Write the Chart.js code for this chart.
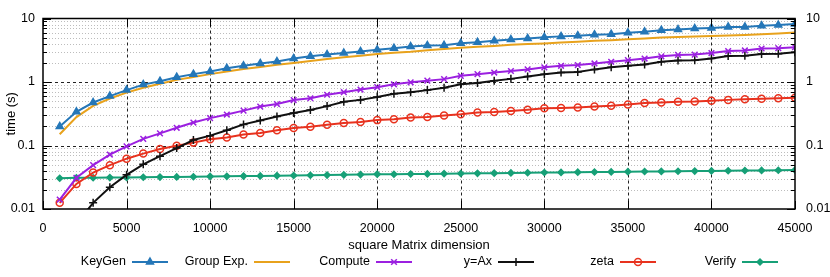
<!DOCTYPE html>
<html lang="en">
<head>
  <meta charset="UTF-8" />
  <title>Timing vs square matrix dimension</title>
  <script src="https://cdn.jsdelivr.net/npm/chart.js@4.4.0/dist/chart.umd.min.js"></script>
  <style>
    body { margin: 0; background: #fff; }
    canvas { display: block; }
  </style>
</head>
<body>
  <canvas id="timing" width="830" height="277"></canvas>

  <script>
    /* ---------- data (seconds) ---------- */
    var matrixDims = [1000, 2000, 3000, 4000, 5000, 6000, 7000, 8000, 9000, 10000,
      11000, 12000, 13000, 14000, 15000, 16000, 17000, 18000, 19000, 20000,
      21000, 22000, 23000, 24000, 25000, 26000, 27000, 28000, 29000, 30000,
      31000, 32000, 33000, 34000, 35000, 36000, 37000, 38000, 39000, 40000,
      41000, 42000, 43000, 44000, 45000];

    var keyGen = [0.20, 0.34, 0.475, 0.60, 0.745, 0.91, 1.03, 1.19, 1.33, 1.46,
      1.64, 1.80, 1.96, 2.10, 2.34, 2.55, 2.70, 2.86, 3.03, 3.22,
      3.41, 3.62, 3.75, 3.78, 4.07, 4.22, 4.48, 4.65, 4.86, 5.05,
      5.23, 5.35, 5.55, 5.67, 5.95, 6.16, 6.54, 6.70, 6.93, 7.10,
      7.36, 7.38, 7.70, 7.90, 8.20];

    var groupExp = [0.15, 0.28, 0.42, 0.55, 0.68, 0.81, 0.94, 1.08, 1.20, 1.33,
      1.46, 1.60, 1.73, 1.87, 2.00, 2.15, 2.30, 2.45, 2.60, 2.75,
      2.90, 3.00, 3.15, 3.30, 3.45, 3.60, 3.70, 3.85, 3.95, 4.05,
      4.20, 4.30, 4.45, 4.55, 4.70, 4.85, 5.00, 5.10, 5.20, 5.30,
      5.40, 5.50, 5.65, 5.80, 6.00];

    var compute = [0.0141, 0.031, 0.049, 0.072, 0.097, 0.127, 0.155, 0.19, 0.23, 0.27,
      0.307, 0.354, 0.41, 0.45, 0.52, 0.555, 0.63, 0.69, 0.76, 0.83,
      0.92, 0.99, 1.05, 1.11, 1.25, 1.33, 1.41, 1.49, 1.58, 1.70,
      1.80, 1.85, 1.96, 2.08, 2.21, 2.34, 2.54, 2.67, 2.70, 2.86,
      3.07, 3.14, 3.37, 3.41, 3.54];

    var yAx = [null, 0.0058, 0.0125, 0.022, 0.0345, 0.0505, 0.068, 0.091, 0.122, 0.143,
      0.174, 0.215, 0.248, 0.286, 0.326, 0.362, 0.417, 0.487, 0.523, 0.58,
      0.653, 0.69, 0.745, 0.81, 0.92, 0.966, 1.05, 1.12, 1.22, 1.33,
      1.41, 1.44, 1.58, 1.70, 1.80, 1.89, 2.08, 2.18, 2.21, 2.34,
      2.57, 2.58, 2.76, 2.79, 2.93];

    var zeta = [0.0125, 0.0248, 0.0375, 0.049, 0.062, 0.0745, 0.088, 0.099, 0.111, 0.125,
      0.134, 0.149, 0.158, 0.174, 0.189, 0.198, 0.213, 0.226, 0.234, 0.251,
      0.26, 0.276, 0.282, 0.296, 0.31, 0.33, 0.337, 0.35, 0.367, 0.385,
      0.389, 0.398, 0.412, 0.423, 0.443, 0.465, 0.475, 0.487, 0.492, 0.505,
      0.523, 0.535, 0.547, 0.555, 0.567];

    var verify = [0.0305, 0.031, 0.031, 0.0312, 0.0313, 0.0316, 0.0318, 0.032, 0.0322, 0.0326,
      0.0327, 0.033, 0.0332, 0.0335, 0.0337, 0.034, 0.0342, 0.0345, 0.0348, 0.0354,
      0.0352, 0.0355, 0.0357, 0.036, 0.0362, 0.0364, 0.0367, 0.037, 0.0372, 0.0375,
      0.0377, 0.038, 0.0382, 0.0384, 0.0387, 0.0389, 0.0391, 0.0393, 0.0395, 0.0398,
      0.040, 0.0403, 0.0405, 0.0408, 0.0412];

    var seriesNames = ["KeyGen", "Group Exp.", "Compute", "y=Ax", "zeta", "Verify"];

    var xTickValues = [0, 5000, 10000, 15000, 20000, 25000, 30000, 35000, 40000, 45000];
    var xTickLabels = ["0", "5000", "10000", "15000", "20000", "25000", "30000", "35000", "40000", "45000"];
    var yTickValues = [0.01, 0.1, 1, 10];
    var yTickLabels = ["0.01", "0.1", "1", "10"];

    /* ---------- helpers ---------- */
    function toPoints(values) {
      return matrixDims.map(function (d, i) { return { x: d, y: values[i] }; });
    }

    var FONT = "'Liberation Sans', Arial, sans-serif";

    function serie(label, values, color, style, radius, fill) {
      return {
        label: label,
        data: toPoints(values),
        borderColor: color,
        backgroundColor: fill || color,
        borderWidth: 2,
        pointStyle: style,
        pointRadius: radius,
        pointBorderWidth: 1.5,
        pointBackgroundColor: fill || color,
        pointBorderColor: color,
        tension: 0
      };
    }

    /* gnuplot-like frame, grid, inward ticks and legend */
    var gnuplotLook = {
      id: "gnuplotLook",
      beforeDatasetsDraw: function (chart) {
        var ctx = chart.ctx, a = chart.chartArea;
        var xs = chart.scales.x, ys = chart.scales.y;
        ctx.save();
        // minor y grid (dotted)
        ctx.strokeStyle = "#bdbdbd";
        ctx.lineWidth = 1;
        ctx.setLineDash([1, 2]);
        for (var k = 0; k < yTickValues.length - 1; k++) {
          for (var m = 2; m <= 9; m++) {
            var py = Math.round(ys.getPixelForValue(yTickValues[k] * m)) + 0.5;
            ctx.beginPath(); ctx.moveTo(a.left, py); ctx.lineTo(a.right, py); ctx.stroke();
          }
        }
        // major grid (dashed)
        ctx.strokeStyle = "#222";
        ctx.setLineDash([3, 3]);
        yTickValues.slice(1, -1).forEach(function (v) {
          var py = Math.round(ys.getPixelForValue(v)) + 0.5;
          ctx.beginPath(); ctx.moveTo(a.left, py); ctx.lineTo(a.right, py); ctx.stroke();
        });
        xTickValues.slice(1, -1).forEach(function (v) {
          var px = Math.round(xs.getPixelForValue(v)) + 0.5;
          ctx.beginPath(); ctx.moveTo(px, a.top); ctx.lineTo(px, a.bottom); ctx.stroke();
        });
        ctx.restore();
      },
      afterDatasetsDraw: function (chart) {
        var ctx = chart.ctx, a = chart.chartArea;
        var xs = chart.scales.x, ys = chart.scales.y;
        ctx.save();
        ctx.strokeStyle = "#000";
        ctx.lineWidth = 1.5;
        ctx.setLineDash([]);
        ctx.strokeRect(a.left, a.top, a.right - a.left, a.bottom - a.top);
        ctx.lineWidth = 1;
        function hTick(py, len) {
          ctx.beginPath();
          ctx.moveTo(a.left, py); ctx.lineTo(a.left + len, py);
          ctx.moveTo(a.right, py); ctx.lineTo(a.right - len, py);
          ctx.stroke();
        }
        for (var k = 0; k < yTickValues.length; k++) {
          hTick(Math.round(ys.getPixelForValue(yTickValues[k])) + 0.5, 8);
          if (k < yTickValues.length - 1) {
            for (var m = 2; m <= 9; m++) {
              hTick(Math.round(ys.getPixelForValue(yTickValues[k] * m)) + 0.5, 4);
            }
          }
        }
        xTickValues.forEach(function (v) {
          var px = Math.round(xs.getPixelForValue(v)) + 0.5;
          ctx.beginPath();
          ctx.moveTo(px, a.bottom); ctx.lineTo(px, a.bottom - 8);
          ctx.moveTo(px, a.top); ctx.lineTo(px, a.top + 8);
          ctx.stroke();
        });
        ctx.restore();
      },
      afterDraw: function (chart) {
        // legend row: text right aligned, sample line after it
        var ctx = chart.ctx;
        var y = 262, x0 = 132, step = 122, len = 36;
        ctx.save();
        ctx.font = "12.5px " + FONT;
        ctx.fillStyle = "#000";
        ctx.textAlign = "right";
        ctx.textBaseline = "middle";
        chart.data.datasets.forEach(function (ds, i) {
          var lx = x0 + i * step;
          ctx.fillText(ds.label, lx - 6, y);
          ctx.strokeStyle = ds.borderColor;
          ctx.lineWidth = 2;
          ctx.beginPath(); ctx.moveTo(lx, y); ctx.lineTo(lx + len, y); ctx.stroke();
          if (ds.pointRadius > 0) {
            ctx.fillStyle = ds.pointBackgroundColor;
            ctx.lineWidth = ds.pointBorderWidth;
            Chart.helpers.drawPoint(ctx, {
              pointStyle: ds.pointStyle, radius: ds.pointRadius,
              rotation: 0, borderWidth: ds.pointBorderWidth
            }, lx + len / 2, y);
            ctx.fillStyle = "#000";
          }
        });
        ctx.restore();
      }
    };

    function yTickCallback(value) {
      var i = yTickValues.indexOf(value);
      return i < 0 ? "" : yTickLabels[i];
    }

    function setYTicks(scale) {
      scale.ticks = yTickValues.map(function (v) { return { value: v }; });
    }

    var ctx = document.getElementById("timing").getContext("2d");
    new Chart(ctx, {
      type: "line",
      data: {
        datasets: [
          serie(seriesNames[0], keyGen, "#2577b8", "triangle", 4),
          serie(seriesNames[1], groupExp, "#e8a21c", false, 0),
          serie(seriesNames[2], compute, "#9b20e0", "crossRot", 4),
          serie(seriesNames[3], yAx, "#111111", "cross", 4),
          serie(seriesNames[4], zeta, "#e8321e", "circle", 3.5, "rgba(0,0,0,0)"),
          serie(seriesNames[5], verify, "#17a077", "rectRot", 3)
        ]
      },
      options: {
        responsive: false,
        animation: false,
        layout: { padding: { top: 14, bottom: 22, left: 0, right: 0 } },
        plugins: { legend: { display: false }, tooltip: { enabled: false } },
        scales: {
          x: {
            type: "linear",
            min: 0,
            max: 45000,
            afterBuildTicks: function (scale) {
              scale.ticks = xTickValues.map(function (v) { return { value: v }; });
            },
            afterFit: function (scale) { scale.height = 46; },
            grid: { display: false, drawTicks: false },
            border: { display: false },
            ticks: {
              autoSkip: false, maxRotation: 0, padding: 12,
              color: "#000", font: { family: FONT, size: 12.5 },
              callback: function (value) {
                var i = xTickValues.indexOf(value);
                return i < 0 ? "" : xTickLabels[i];
              }
            },
            title: {
              display: true, text: "square Matrix dimension", color: "#000",
              font: { family: FONT, size: 13 }, padding: { top: 0, bottom: 2 }
            }
          },
          y: {
            type: "logarithmic",
            position: "left",
            min: 0.01,
            max: 10,
            afterBuildTicks: setYTicks,
            afterFit: function (scale) { scale.width = 43; },
            grid: { display: false, drawTicks: false },
            border: { display: false },
            ticks: {
              padding: 8, color: "#000", font: { family: FONT, size: 12.5 },
              callback: yTickCallback
            },
            title: {
              display: true, text: "time (s)", color: "#000",
              font: { family: FONT, size: 13 }, padding: { top: 4, bottom: 0 }
            }
          },
          y2: {
            type: "logarithmic",
            position: "right",
            min: 0.01,
            max: 10,
            afterBuildTicks: setYTicks,
            afterFit: function (scale) { scale.width = 35; },
            grid: { display: false, drawTicks: false },
            border: { display: false },
            ticks: {
              padding: 11, color: "#000", font: { family: FONT, size: 12.5 },
              callback: yTickCallback
            }
          }
        }
      },
      plugins: [gnuplotLook]
    });
  </script>
</body>
</html>
